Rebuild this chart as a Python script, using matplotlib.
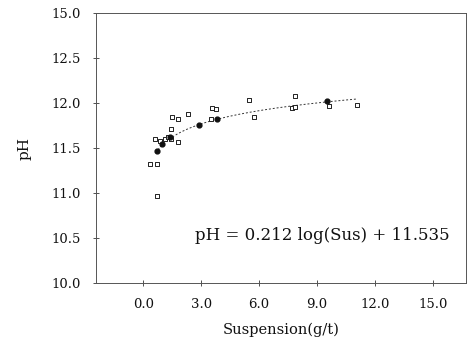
import numpy as np
import matplotlib
matplotlib.use("Agg")
import matplotlib.pyplot as plt

plt.rcParams['font.family'] = ['DejaVu Serif']

# measured points (hollow squares)
sus_obs = [0.33, 0.71, 0.71, 0.62, 0.88, 1.14, 1.30, 1.44, 1.44, 1.80,
           1.50, 1.80, 2.30, 3.54, 3.79, 3.52, 5.50, 5.75, 7.84, 7.70,
           7.87, 9.60, 11.08]
ph_obs = [11.32, 11.32, 10.97, 11.60, 11.58, 11.60, 11.62, 11.60, 11.71, 11.57,
          11.85, 11.82, 11.88, 11.94, 11.93, 11.82, 12.03, 11.85, 12.08, 11.94,
          11.96, 11.97, 11.98]

# points on the fitted curve (filled)
sus_fit_pts = [0.72, 1.00, 1.40, 2.90, 3.82, 9.50]
ph_fit_pts = [11.47, 11.55, 11.62, 11.76, 11.82, 12.02]

# fit: pH = a*ln(Sus) + b
fit_a = 0.212
fit_b = 11.535
fit_range = (0.65, 11.1)

yticks = [10.0, 10.5, 11.0, 11.5, 12.0, 12.5, 13.0]
ytick_labels = ['10.0', '10.5', '11.0', '11.5', '12.0', '12.5', '15.0']
xticks = [0, 3, 6, 9, 12, 15]
xtick_labels = ['0.0', '3.0', '6.0', '9.0', '12.0', '15.0']

fig = plt.figure(figsize=(4.7, 3.5), dpi=100)
ax = fig.add_axes([96/470, 1 - 283/350, (466-96)/470, (283-13)/350])

xs = np.linspace(fit_range[0], fit_range[1], 200)
ax.plot(xs, fit_a*np.log(xs) + fit_b, color='#333333', lw=0.7, ls=(0, (2, 2)))
ax.scatter(sus_obs, ph_obs, marker='s', s=10, facecolors='white',
           edgecolors='#222222', linewidths=0.7, zorder=3)
ax.scatter(sus_fit_pts, ph_fit_pts, marker='o', s=12, color='#111111', zorder=4)

ax.text(2.7, 10.53, 'pH = 0.212 log(Sus) + 11.535', fontsize=12,
        color='#111111', va='center')

ax.set_xlim(-2.44, 16.7)
ax.set_ylim(10.0, 13.0)
ax.set_xticks(xticks)
ax.set_xticklabels(xtick_labels)
ax.set_yticks(yticks)
ax.set_yticklabels(ytick_labels)
ax.tick_params(direction='inout', length=4, width=0.6, labelsize=9.5,
               colors='#333333', labelcolor='#111111', pad=9)
for s in ax.spines.values():
    s.set_linewidth(0.7)
    s.set_color('#555555')
    s.set_linestyle((0, (6, 1)))

ax.set_xlabel('Suspension(g/t)', fontsize=10.5, labelpad=8, color='#111111')
ax.set_ylabel('pH', fontsize=11, labelpad=14, color='#111111')

fig.savefig('out.png', dpi=100)
